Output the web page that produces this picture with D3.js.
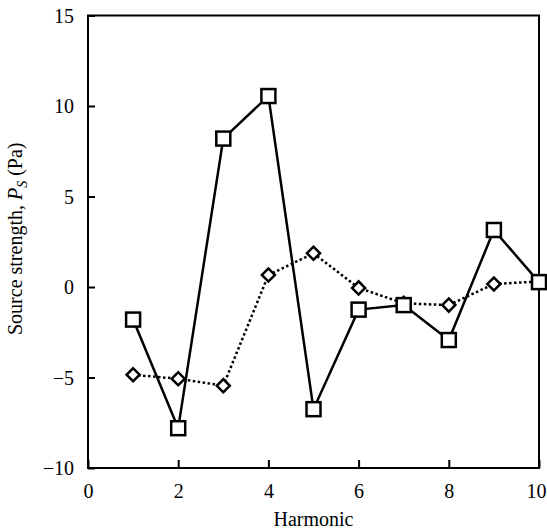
<!DOCTYPE html>
<html><head><meta charset="utf-8">
<script src="https://cdn.jsdelivr.net/npm/d3@7"></script>
</head><body style="margin:0;background:#fff">
<svg id="c" width="547" height="530" font-family="Liberation Serif"></svg>
<script>
const harmonics = [1,2,3,4,5,6,7,8,9,10];
const squareSeries = [-1.8,-7.8,8.2,10.55,-6.75,-1.25,-1.0,-2.93,3.15,0.27];
const diamondSeries = [-4.85,-5.07,-5.45,0.66,1.86,-0.05,-0.9,-1.0,0.17,0.3];
const xTicks = [0,2,4,6,8,10];
const yTicks = [-10,-5,0,5,10,15];

const FONT = "Liberation Serif";
const svg = d3.select("#c");
const L=88, R=539, T=15.5, B=468;
const x = d3.scaleLinear().domain([0,10]).range([L,R]);
const y = d3.scaleLinear().domain([-10,15]).range([B,T]);

svg.append("rect").attr("x",L).attr("y",T).attr("width",R-L).attr("height",B-T)
  .attr("fill","none").attr("stroke","#000").attr("stroke-width",2);

const ya = svg.append("g").attr("transform",`translate(${L},0)`)
  .call(d3.axisRight(y).tickValues(yTicks).tickSize(7).tickFormat(d=>d<0?"\u2212"+(-d):d));
ya.attr("font-family",FONT).attr("font-size",20);
ya.select(".domain").remove();
ya.selectAll("line").attr("stroke","#000").attr("stroke-width",2);
ya.selectAll("text").attr("x",-14).attr("text-anchor","end").attr("dy","0.34em")
  .attr("font-family",FONT).attr("font-size",20).attr("fill","#000");

const xa = svg.append("g").attr("transform",`translate(0,${B})`)
  .call(d3.axisTop(x).tickValues(xTicks).tickSize(8));
xa.attr("font-family",FONT).attr("font-size",20);
xa.select(".domain").remove();
xa.selectAll("line").attr("stroke","#000").attr("stroke-width",2);
xa.selectAll("text").attr("y",30).attr("dy",0).attr("text-anchor","middle")
  .attr("x",d=>d===10?-3:0)
  .attr("font-family",FONT).attr("font-size",20).attr("fill","#000");

svg.append("text").attr("x",(L+R)/2).attr("y",526).attr("text-anchor","middle")
  .attr("font-family",FONT).attr("font-size",20).text("Harmonic");
const yl = svg.append("text").attr("transform",`translate(22,${(T+B)/2 - 3}) rotate(-90)`)
  .attr("text-anchor","middle").attr("font-family",FONT).attr("font-size",20);
yl.append("tspan").text("Source strength, ");
yl.append("tspan").attr("font-style","italic").text("P");
yl.append("tspan").attr("font-style","italic").attr("dy",5).attr("font-size",14).text("S");
yl.append("tspan").attr("dy",-5).text(" (Pa)");

const line = d3.line().x((d,i)=>x(harmonics[i])).y(d=>y(d));

svg.append("path").datum(diamondSeries).attr("d",line).attr("fill","none")
  .attr("stroke","#000").attr("stroke-width",2.5).attr("stroke-dasharray","2.5,2.5");
svg.append("path").datum(squareSeries).attr("d",line).attr("fill","none")
  .attr("stroke","#000").attr("stroke-width",2.5);

svg.selectAll(".dm").data(diamondSeries).enter().append("path")
  .attr("d",d3.symbol().type(d3.symbolSquare).size(85))
  .attr("transform",(d,i)=>`translate(${x(harmonics[i])},${y(d)}) rotate(45)`)
  .attr("fill","#fff").attr("stroke","#000").attr("stroke-width",2.5);

svg.selectAll(".sq").data(squareSeries).enter().append("rect")
  .attr("x",(d,i)=>x(harmonics[i])-7).attr("y",d=>y(d)-7)
  .attr("width",14).attr("height",14)
  .attr("fill","#fff").attr("stroke","#000").attr("stroke-width",2.5);
</script>
</body></html>
